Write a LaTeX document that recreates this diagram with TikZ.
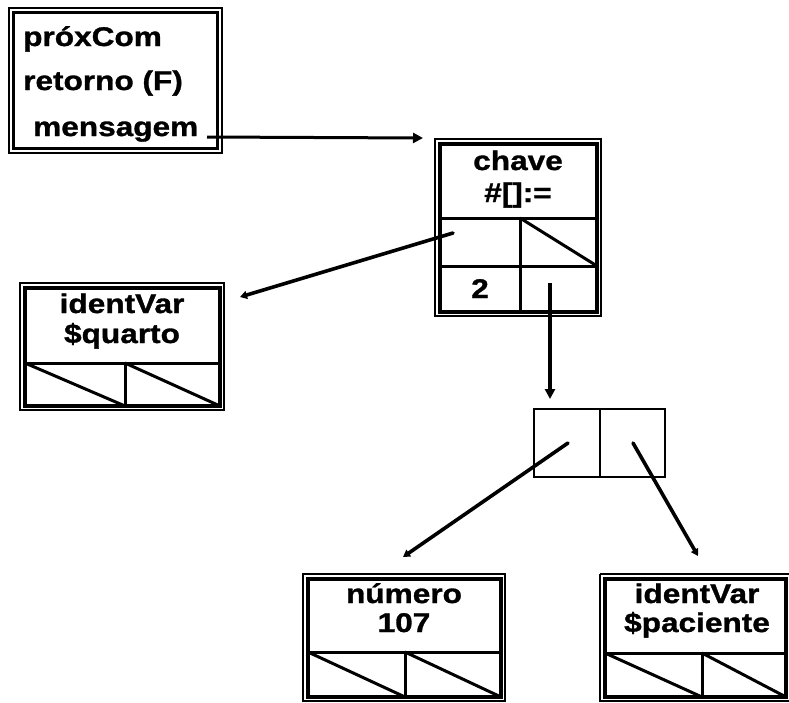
\documentclass[tikz,border=0pt]{standalone}
\usepackage{fontspec}
\newfontfamily\lbl{Liberation Sans Bold}[FakeStretch=1.17,FakeBold=1.2]
\usetikzlibrary{arrows.meta}
\begin{document}
\begin{tikzpicture}[x=1pt,y=-1pt,
  outerline/.style={line width=1.8pt},
  innerline/.style={line width=3.4pt},
  cellline/.style={line width=3pt},
  txt/.style={font=\lbl\fontsize{27}{30}\selectfont, inner sep=0pt},
  arr/.style={line width=3pt, -{Triangle[length=10pt,width=10pt]}},
  sarr/.style={line width=3.6pt, line cap=round, -{Triangle[length=7pt,width=8pt]}}]
\useasboundingbox (0,0) rectangle (789,702);

% top-left box
\draw[outerline] (9,8) rectangle (222,153);
\draw[innerline] (13.5,12.5) rectangle (217.5,148.5);
\node[txt, anchor=base west] (prox) at (23,46) {próxCom};
\node[txt, anchor=base west] (ret) at (23,90) {retorno (F)};
\node[txt, anchor=base west] (msg) at (33,136) {mensagem};

% chave box
\draw[outerline] (435,139) rectangle (601,316);
\draw[innerline] (440,144) rectangle (597,312);
\draw[cellline] (440,218) -- (597,218);
\draw[cellline] (440,266) -- (597,266);
\draw[cellline] (520,218) -- (520,312);
\draw[cellline] (520,218) -- (597,266);
\node[txt, anchor=base] (chave) at (518,170) {chave};
\node[txt, anchor=base] (sel) at (518,202) {\#[]:=};
\node[txt, anchor=base] (two) at (480,298) {2};
\coordinate (c11) at (453,233);
\coordinate (c22) at (550,283);

% squarto box
\draw[outerline] (20,283) rectangle (224,410);
\draw[innerline] (25,288) rectangle (220,406);
\draw[cellline] (25,363) -- (220,363);
\draw[cellline] (125,363) -- (125,406);
\draw[cellline] (25,363) -- (125,406);
\draw[cellline] (125,363) -- (220,406);
\node[txt, anchor=base] (iv1) at (122,313) {identVar};
\node[txt, anchor=base] (sq) at (122,343) {\$quarto};
\coordinate (sqin) at (240,297);

% small pair box
\draw[line width=2.6pt] (534,409) rectangle (665,477);
\draw[line width=2.6pt] (600,409) -- (600,477);
\coordinate (pl) at (568,443);
\coordinate (pr) at (633,443);
\coordinate (ptop) at (550,399);

% numero box
\draw[outerline] (303,574) rectangle (505,701);
\draw[innerline] (308,579) rectangle (501,697);
\draw[cellline] (308,652) -- (501,652);
\draw[cellline] (405,652) -- (405,697);
\draw[cellline] (308,652) -- (405,697);
\draw[cellline] (405,652) -- (501,697);
\node[txt, anchor=base] (num) at (404,603) {número};
\node[txt, anchor=base] (n107) at (404,632) {107};
\coordinate (numin) at (403,557);

% paciente box
\draw[outerline] (600,574) -- (792,574);
\draw[outerline] (600,574) -- (600,701) -- (792,701);
\draw[innerline] (605,579) rectangle (786,697);
\draw[cellline] (605,653) -- (786,653);
\draw[cellline] (702,653) -- (702,697);
\draw[cellline] (605,653) -- (702,697);
\draw[cellline] (702,653) -- (786,697);
\node[txt, anchor=base] (iv2) at (697,603) {identVar};
\node[txt, anchor=base] (pac) at (697,632) {\$paciente};
\coordinate (pacin) at (698,556);

% connectors
\coordinate (msgout) at (207,137);
\coordinate (chin) at (423,138);
\draw[arr] (msgout) -- (chin);
\draw[sarr] (c11) -- (sqin);
\draw[arr, line width=3.6pt] (c22) -- (ptop);
\draw[sarr] (pl) -- (numin);
\draw[sarr] (pr) -- (pacin);
\end{tikzpicture}
\end{document}
